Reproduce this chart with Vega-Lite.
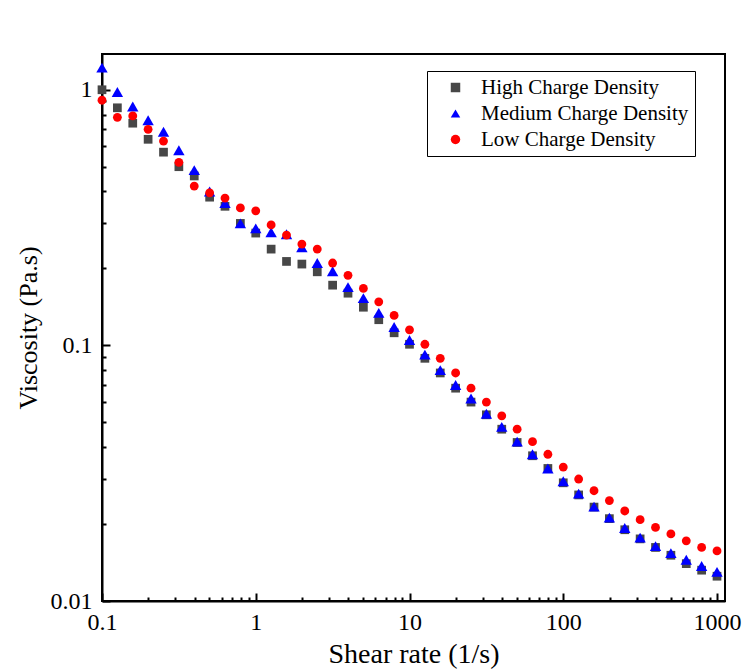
{
  "$schema": "https://vega.github.io/schema/vega-lite/v6.json",
  "autosize": "none",
  "width": 623,
  "height": 547,
  "padding": {"left": 102, "top": 54, "right": 23, "bottom": 71},
  "background": "white",
  "config": {
    "view": {"stroke": "black", "strokeWidth": 2},
    "font": "Liberation Serif",
    "axis": {
      "labelFont": "Liberation Serif",
      "titleFont": "Liberation Serif",
      "labelColor": "black",
      "titleColor": "black",
      "titleFontWeight": "normal",
      "grid": false,
      "domainColor": "black",
      "domainWidth": 2,
      "tickColor": "black",
      "tickWidth": 2,
      "labelFlush": false,
      "labelOverlap": false,
      "labelBound": false
    },
    "legend": {"labelFont": "Liberation Serif"}
  },
  "datasets": {
    "pts": [
      {"rate": 0.1, "visc": 1.0, "series": "High Charge Density"},
      {"rate": 0.1259, "visc": 0.85, "series": "High Charge Density"},
      {"rate": 0.1585, "visc": 0.74, "series": "High Charge Density"},
      {"rate": 0.1995, "visc": 0.64, "series": "High Charge Density"},
      {"rate": 0.2512, "visc": 0.57, "series": "High Charge Density"},
      {"rate": 0.3162, "visc": 0.5, "series": "High Charge Density"},
      {"rate": 0.3981, "visc": 0.46, "series": "High Charge Density"},
      {"rate": 0.5012, "visc": 0.38, "series": "High Charge Density"},
      {"rate": 0.631, "visc": 0.35, "series": "High Charge Density"},
      {"rate": 0.7943, "visc": 0.3, "series": "High Charge Density"},
      {"rate": 1, "visc": 0.275, "series": "High Charge Density"},
      {"rate": 1.259, "visc": 0.238, "series": "High Charge Density"},
      {"rate": 1.585, "visc": 0.213, "series": "High Charge Density"},
      {"rate": 1.995, "visc": 0.208, "series": "High Charge Density"},
      {"rate": 2.512, "visc": 0.194, "series": "High Charge Density"},
      {"rate": 3.162, "visc": 0.172, "series": "High Charge Density"},
      {"rate": 3.981, "visc": 0.16, "series": "High Charge Density"},
      {"rate": 5.012, "visc": 0.141, "series": "High Charge Density"},
      {"rate": 6.31, "visc": 0.126, "series": "High Charge Density"},
      {"rate": 7.943, "visc": 0.112, "series": "High Charge Density"},
      {"rate": 10, "visc": 0.101, "series": "High Charge Density"},
      {"rate": 12.59, "visc": 0.089, "series": "High Charge Density"},
      {"rate": 15.85, "visc": 0.078, "series": "High Charge Density"},
      {"rate": 19.95, "visc": 0.068, "series": "High Charge Density"},
      {"rate": 25.12, "visc": 0.06, "series": "High Charge Density"},
      {"rate": 31.62, "visc": 0.0535, "series": "High Charge Density"},
      {"rate": 39.81, "visc": 0.047, "series": "High Charge Density"},
      {"rate": 50.12, "visc": 0.0417, "series": "High Charge Density"},
      {"rate": 63.1, "visc": 0.037, "series": "High Charge Density"},
      {"rate": 79.43, "visc": 0.033, "series": "High Charge Density"},
      {"rate": 100, "visc": 0.029, "series": "High Charge Density"},
      {"rate": 125.9, "visc": 0.026, "series": "High Charge Density"},
      {"rate": 158.5, "visc": 0.0233, "series": "High Charge Density"},
      {"rate": 199.5, "visc": 0.021, "series": "High Charge Density"},
      {"rate": 251.2, "visc": 0.019, "series": "High Charge Density"},
      {"rate": 316.2, "visc": 0.0175, "series": "High Charge Density"},
      {"rate": 398.1, "visc": 0.0162, "series": "High Charge Density"},
      {"rate": 501.2, "visc": 0.0151, "series": "High Charge Density"},
      {"rate": 631, "visc": 0.014, "series": "High Charge Density"},
      {"rate": 794.3, "visc": 0.0132, "series": "High Charge Density"},
      {"rate": 1000, "visc": 0.0125, "series": "High Charge Density"},
      {"rate": 0.1, "visc": 1.22, "series": "Medium Charge Density"},
      {"rate": 0.1259, "visc": 0.98, "series": "Medium Charge Density"},
      {"rate": 0.1585, "visc": 0.86, "series": "Medium Charge Density"},
      {"rate": 0.1995, "visc": 0.76, "series": "Medium Charge Density"},
      {"rate": 0.2512, "visc": 0.685, "series": "Medium Charge Density"},
      {"rate": 0.3162, "visc": 0.58, "series": "Medium Charge Density"},
      {"rate": 0.3981, "visc": 0.485, "series": "Medium Charge Density"},
      {"rate": 0.5012, "visc": 0.4, "series": "Medium Charge Density"},
      {"rate": 0.631, "visc": 0.36, "series": "Medium Charge Density"},
      {"rate": 0.7943, "visc": 0.3, "series": "Medium Charge Density"},
      {"rate": 1, "visc": 0.287, "series": "Medium Charge Density"},
      {"rate": 1.259, "visc": 0.277, "series": "Medium Charge Density"},
      {"rate": 1.585, "visc": 0.272, "series": "Medium Charge Density"},
      {"rate": 1.995, "visc": 0.242, "series": "Medium Charge Density"},
      {"rate": 2.512, "visc": 0.21, "series": "Medium Charge Density"},
      {"rate": 3.162, "visc": 0.195, "series": "Medium Charge Density"},
      {"rate": 3.981, "visc": 0.169, "series": "Medium Charge Density"},
      {"rate": 5.012, "visc": 0.153, "series": "Medium Charge Density"},
      {"rate": 6.31, "visc": 0.134, "series": "Medium Charge Density"},
      {"rate": 7.943, "visc": 0.118, "series": "Medium Charge Density"},
      {"rate": 10, "visc": 0.105, "series": "Medium Charge Density"},
      {"rate": 12.59, "visc": 0.092, "series": "Medium Charge Density"},
      {"rate": 15.85, "visc": 0.08, "series": "Medium Charge Density"},
      {"rate": 19.95, "visc": 0.07, "series": "Medium Charge Density"},
      {"rate": 25.12, "visc": 0.062, "series": "Medium Charge Density"},
      {"rate": 31.62, "visc": 0.054, "series": "Medium Charge Density"},
      {"rate": 39.81, "visc": 0.048, "series": "Medium Charge Density"},
      {"rate": 50.12, "visc": 0.042, "series": "Medium Charge Density"},
      {"rate": 63.1, "visc": 0.0375, "series": "Medium Charge Density"},
      {"rate": 79.43, "visc": 0.033, "series": "Medium Charge Density"},
      {"rate": 100, "visc": 0.0294, "series": "Medium Charge Density"},
      {"rate": 125.9, "visc": 0.0263, "series": "Medium Charge Density"},
      {"rate": 158.5, "visc": 0.0234, "series": "Medium Charge Density"},
      {"rate": 199.5, "visc": 0.0212, "series": "Medium Charge Density"},
      {"rate": 251.2, "visc": 0.0193, "series": "Medium Charge Density"},
      {"rate": 316.2, "visc": 0.0177, "series": "Medium Charge Density"},
      {"rate": 398.1, "visc": 0.0164, "series": "Medium Charge Density"},
      {"rate": 501.2, "visc": 0.0154, "series": "Medium Charge Density"},
      {"rate": 631, "visc": 0.0145, "series": "Medium Charge Density"},
      {"rate": 794.3, "visc": 0.0137, "series": "Medium Charge Density"},
      {"rate": 1000, "visc": 0.013, "series": "Medium Charge Density"},
      {"rate": 0.1, "visc": 0.91, "series": "Low Charge Density"},
      {"rate": 0.1259, "visc": 0.78, "series": "Low Charge Density"},
      {"rate": 0.1585, "visc": 0.79, "series": "Low Charge Density"},
      {"rate": 0.1995, "visc": 0.7, "series": "Low Charge Density"},
      {"rate": 0.2512, "visc": 0.63, "series": "Low Charge Density"},
      {"rate": 0.3162, "visc": 0.52, "series": "Low Charge Density"},
      {"rate": 0.3981, "visc": 0.42, "series": "Low Charge Density"},
      {"rate": 0.5012, "visc": 0.395, "series": "Low Charge Density"},
      {"rate": 0.631, "visc": 0.377, "series": "Low Charge Density"},
      {"rate": 0.7943, "visc": 0.345, "series": "Low Charge Density"},
      {"rate": 1, "visc": 0.336, "series": "Low Charge Density"},
      {"rate": 1.259, "visc": 0.296, "series": "Low Charge Density"},
      {"rate": 1.585, "visc": 0.27, "series": "Low Charge Density"},
      {"rate": 1.995, "visc": 0.249, "series": "Low Charge Density"},
      {"rate": 2.512, "visc": 0.238, "series": "Low Charge Density"},
      {"rate": 3.162, "visc": 0.21, "series": "Low Charge Density"},
      {"rate": 3.981, "visc": 0.188, "series": "Low Charge Density"},
      {"rate": 5.012, "visc": 0.167, "series": "Low Charge Density"},
      {"rate": 6.31, "visc": 0.148, "series": "Low Charge Density"},
      {"rate": 7.943, "visc": 0.131, "series": "Low Charge Density"},
      {"rate": 10, "visc": 0.115, "series": "Low Charge Density"},
      {"rate": 12.59, "visc": 0.101, "series": "Low Charge Density"},
      {"rate": 15.85, "visc": 0.089, "series": "Low Charge Density"},
      {"rate": 19.95, "visc": 0.078, "series": "Low Charge Density"},
      {"rate": 25.12, "visc": 0.068, "series": "Low Charge Density"},
      {"rate": 31.62, "visc": 0.06, "series": "Low Charge Density"},
      {"rate": 39.81, "visc": 0.053, "series": "Low Charge Density"},
      {"rate": 50.12, "visc": 0.047, "series": "Low Charge Density"},
      {"rate": 63.1, "visc": 0.042, "series": "Low Charge Density"},
      {"rate": 79.43, "visc": 0.0375, "series": "Low Charge Density"},
      {"rate": 100, "visc": 0.0334, "series": "Low Charge Density"},
      {"rate": 125.9, "visc": 0.03, "series": "Low Charge Density"},
      {"rate": 158.5, "visc": 0.027, "series": "Low Charge Density"},
      {"rate": 199.5, "visc": 0.0247, "series": "Low Charge Density"},
      {"rate": 251.2, "visc": 0.0225, "series": "Low Charge Density"},
      {"rate": 316.2, "visc": 0.0208, "series": "Low Charge Density"},
      {"rate": 398.1, "visc": 0.0194, "series": "Low Charge Density"},
      {"rate": 501.2, "visc": 0.0183, "series": "Low Charge Density"},
      {"rate": 631, "visc": 0.0172, "series": "Low Charge Density"},
      {"rate": 794.3, "visc": 0.0162, "series": "Low Charge Density"},
      {"rate": 1000, "visc": 0.0157, "series": "Low Charge Density"}
    ]
  },
  "data": {"name": "pts"},
  "resolve": {"axis": {"x": "independent", "y": "independent"}},
  "layer": [
    {
      "mark": {"type": "point", "opacity": 0},
      "encoding": {
        "x": {
          "field": "rate", "type": "quantitative",
          "scale": {"type": "log", "domain": [0.1, 1127], "nice": false, "zero": false},
          "axis": {"orient": "bottom", "offset": -8, "tickSize": 8, "ticks": true, "domain": false, "labels": false, "title": null,
                   "values": [0.1, 1, 10, 100, 1000]}
        },
        "y": {
          "field": "visc", "type": "quantitative",
          "scale": {"type": "log", "domain": [0.01, 1.38], "nice": false, "zero": false},
          "axis": {"orient": "left", "offset": -8, "tickSize": 8, "ticks": true, "domain": false, "labels": false, "title": null,
                   "values": [0.01, 0.1, 1]}
        }
      }
    },
    {
      "mark": {"type": "point", "opacity": 0},
      "encoding": {
        "x": {
          "field": "rate", "type": "quantitative",
          "axis": {"orient": "bottom", "offset": -4, "tickSize": 4, "ticks": true, "domain": false, "labels": false, "title": null,
                   "values": [0.2,0.3,0.4,0.5,0.6,0.7,0.8,0.9,2,3,4,5,6,7,8,9,20,30,40,50,60,70,80,90,200,300,400,500,600,700,800,900]}
        },
        "y": {
          "field": "visc", "type": "quantitative",
          "axis": {"orient": "left", "offset": -4, "tickSize": 4, "ticks": true, "domain": false, "labels": false, "title": null,
                   "values": [0.02,0.03,0.04,0.05,0.06,0.07,0.08,0.09,0.2,0.3,0.4,0.5,0.6,0.7,0.8,0.9]}
        }
      }
    },
    {
      "mark": {"type": "point", "filled": true, "opacity": 1},
      "encoding": {
        "x": {
          "field": "rate", "type": "quantitative",
          "axis": {
            "orient": "bottom",
            "title": "Shear rate (1/s)",
            "titleFontSize": 28,
            "titlePadding": 6,
            "values": [0.1, 1, 10, 100, 1000],
            "format": "~g",
            "labelFontSize": 24,
            "labelPadding": 9,
            "ticks": false,
            "tickSize": 0
          }
        },
        "y": {
          "field": "visc", "type": "quantitative",
          "axis": {
            "orient": "left",
            "title": "Viscosity (Pa.s)",
            "titleFontSize": 26,
            "titlePadding": 9,
            "values": [0.01, 0.1, 1],
            "format": "~g",
            "labelFontSize": 24,
            "labelPadding": 10,
            "ticks": false,
            "tickSize": 0
          }
        },
        "color": {
          "field": "series", "type": "nominal",
          "sort": ["High Charge Density", "Medium Charge Density", "Low Charge Density"],
          "scale": {"domain": ["High Charge Density", "Medium Charge Density", "Low Charge Density"], "range": ["#474747", "#0000ff", "#ff0000"]},
          "legend": {
            "title": null,
            "orient": "none",
            "legendX": 325,
            "legendY": 17,
            "strokeColor": "black",
            "fillColor": "white",
            "padding": 6,
            "symbolOffset": 12,
            "labelOffset": 15,
            "labelFontSize": 21,
            "labelColor": "black",
            "labelLimit": 400,
            "rowPadding": 4,
            "symbolSize": 90,
            "symbolStrokeWidth": 0
          }
        },
        "shape": {
          "field": "series", "type": "nominal",
          "sort": ["High Charge Density", "Medium Charge Density", "Low Charge Density"],
          "scale": {"domain": ["High Charge Density", "Medium Charge Density", "Low Charge Density"], "range": ["square", "triangle-up", "circle"]}
        },
        "size": {
          "condition": [
            {"test": "datum.series === 'Medium Charge Density'", "value": 130},
            {"test": "datum.series === 'Low Charge Density'", "value": 78}
          ],
          "value": 76
        }
      }
    }
  ]
}
